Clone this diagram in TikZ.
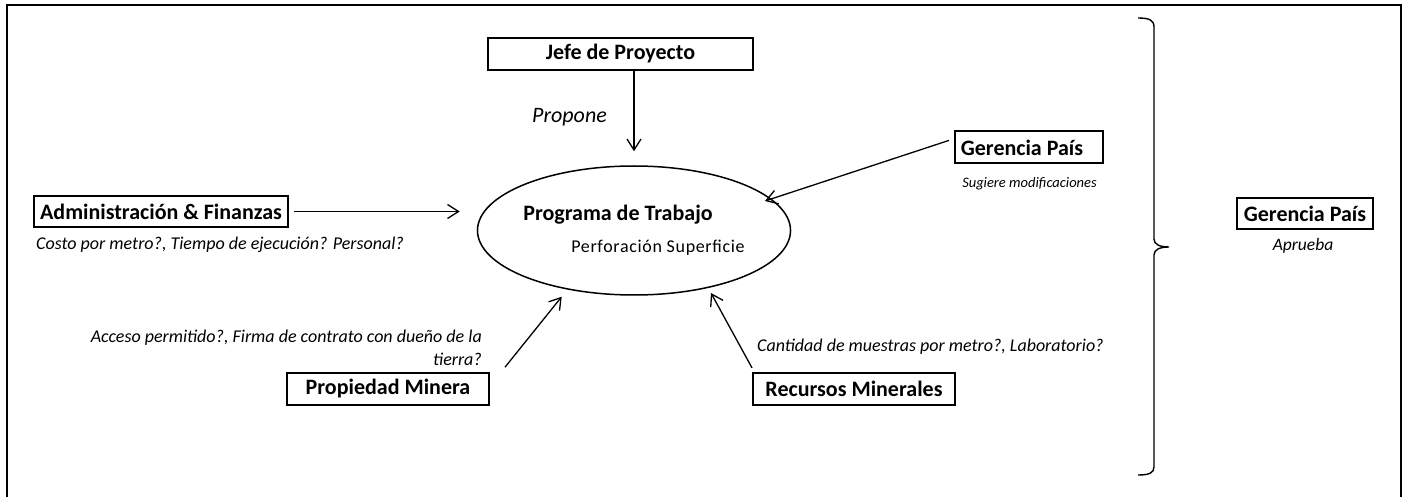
\documentclass[tikz,border=0pt]{standalone}
\usepackage{fontspec}
\setmainfont{Carlito}
\newfontfamily\perffont[LetterSpace=3.7]{Carlito}
\usetikzlibrary{arrows.meta,shapes.geometric}
\begin{document}
\begin{tikzpicture}[x=1pt,y=1pt,
  box/.style={draw, line width=2pt, minimum height=32pt, inner sep=0pt,
    font=\bfseries\fontsize{22}{26}\selectfont},
  lbl/.style={inner sep=0pt, font=\itshape\fontsize{18}{23}\selectfont},
  arr/.style={-{Straight Barb[length=11pt,width=14pt]}, line width=1.3pt},
  frame/.style={line width=2.4pt},
  bracestyle/.style={line width=1.4pt}]
\useasboundingbox (0,0) rectangle (1406,496);
\draw[frame] (7,-10) rectangle (1401,491);

% boxes
\node[box, minimum width=265pt] (jefe) at (620.5,442) {Jefe de Proyecto};
\node[box, minimum width=254pt, minimum height=31pt] (admin) at (161,284.5) {Administración \& Finanzas};
\node[box, minimum width=148pt] (gmid) at (1029,348.6) {Gerencia País\hspace*{14pt}};
\node[box, minimum width=136pt, minimum height=31pt] (gright) at (1305,282.5) {Gerencia País};
\node[box, minimum width=202pt] (pm) at (388,107.1) {Propiedad Minera};
\node[box, minimum width=202pt] (rm) at (854,107.1) {Recursos Minerales};

% central ellipse
\node[ellipse, draw, line width=1.5pt, minimum width=263.4pt, minimum height=129pt,
  inner sep=0pt, align=left, font=\fontsize{22}{31.7}\selectfont] (ell) at (634,265.5)
  {\bfseries Programa de Trabajo\\\hspace*{48pt}{\perffont\mdseries\fontsize{18}{31.7}\selectfont Perforación Superficie}};

% labels
\node[lbl, anchor=base west, font=\itshape\fontsize{22}{26}\selectfont] (lJefe) at (532,373) {Propone};
\node[lbl, anchor=base west] (lAdmin) at (36,246) {Costo por metro?, Tiempo de ejecución? Personal?};
\node[lbl, anchor=base, font=\itshape\fontsize{14.5}{18}\selectfont] (lGmid) at (1029.5,308) {Sugiere modificaciones};
\node[lbl, anchor=base, font=\itshape\fontsize{17.5}{21}\selectfont] (lGright) at (1303,245) {Aprueba};
\node[lbl, align=right, anchor=base east] (lPm) at (482,131) {Acceso permitido?, Firma de contrato con dueño de la\\tierra?};
\node[lbl, anchor=base west] (lRm) at (757,145) {Cantidad de muestras por metro?, Laboratorio?};

% connectors
\draw[arr, shorten >=14pt] ([xshift=13.5pt]jefe.south) -- ([xshift=0pt]ell.north);
\draw[arr] ([xshift=5pt]admin.east) -- ([xshift=-17pt]ell.west |- admin.east);
\draw[arr] ([shift={(-5,7)}]gmid.west) -- ([shift={(131,29.5)}]ell.center);
\draw[arr] ([shift={(15,4.7)}]pm.north east) -- ([shift={(-72.3,-66.2)}]ell.center);
\draw[arr] ([shift={(0,4)}]rm.north west) -- ([shift={(77,-62.5)}]ell.center);

% brace
\draw[bracestyle] (1138,478) .. controls (1149,478) and (1154,476) .. (1154,469)
  -- (1154,257) .. controls (1154,252) and (1159,249) .. (1169,249)
  .. controls (1159,249) and (1154,246) .. (1154,241)
  -- (1154,29) .. controls (1154,23) and (1149,21) .. (1138,21);
\end{tikzpicture}
\end{document}
